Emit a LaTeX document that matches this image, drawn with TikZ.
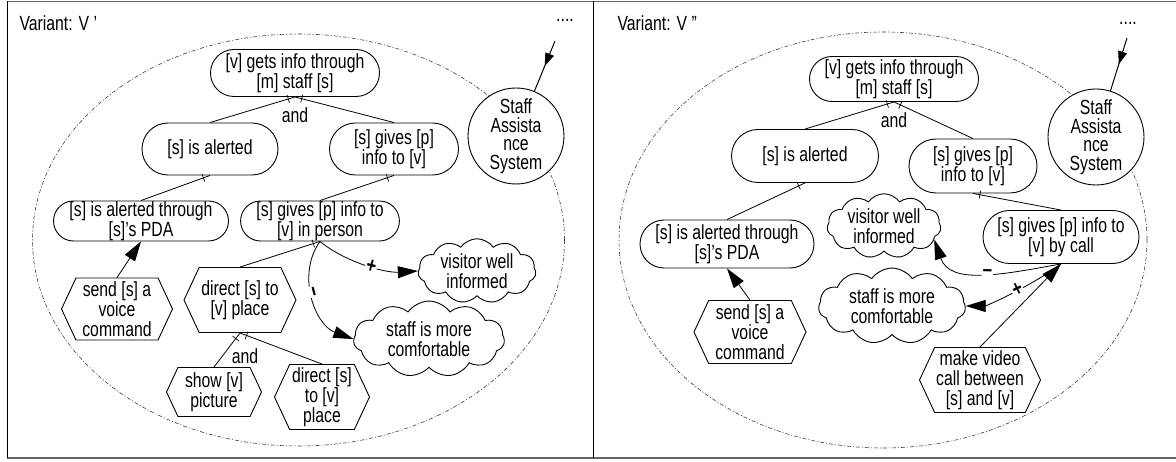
\documentclass[tikz,border=0pt]{standalone}
\usepackage{fontspec}
\setmainfont{Liberation Sans}[FakeStretch=0.77]
\usetikzlibrary{shapes.misc,shapes.symbols,shapes.geometric,arrows.meta,decorations.markings}
\begin{document}
\begin{tikzpicture}[x=1pt,y=-1pt,
  font=\fontsize{20.5}{20}\selectfont,
  goal/.style={rounded rectangle, draw, fill=white, line width=0.9pt, align=center, inner sep=0pt},
  task/.style={signal, signal to=east and west, signal pointer angle=130, draw, fill=white, line width=0.9pt, align=center, inner sep=0pt},
  soft/.style={cloud, cloud puffs=11, cloud puff arc=110, aspect=2, draw, fill=white, line width=0.9pt, align=center, inner sep=0pt},
  actor/.style={circle, draw, fill=white, line width=0.9pt, align=center, inner sep=0pt, minimum size=96pt, font=\fontsize{20.5}{18.5}\selectfont},
  link/.style={line width=0.8pt},
  andtick/.style={link, postaction={decorate, decoration={markings, mark=at position 7pt with {\draw[line width=0.7pt] (0,-4pt) -- (0,4pt);}}}},
  arr/.style={link, -{Triangle[length=20pt,width=12pt]}},
  midarr/.style={line width=1pt, postaction={decorate, decoration={markings, mark=at position 0.5 with {\arrow{Triangle[length=13pt,width=9pt]}}}}},
  contrib/.style={fill=white, inner sep=1pt, font=\fontsize{22}{22}\selectfont\bfseries},
  bound/.style={line width=0.6pt, black!75, dash pattern=on 4pt off 2pt on 1pt off 2pt},
  frame/.style={line width=1.5pt, black!60},
  vline/.style={line width=1pt, black}
]
\fill[white] (0,0) rectangle (1176,462);
\useasboundingbox (0,0) rectangle (1176,462);

% frame
\draw[frame] (7,1.5) -- (1176,1.5);
\draw[frame] (7,458) -- (1176,458);
\draw[vline] (7,1.5) -- (7,458);
\draw[vline] (593,1.5) -- (593,458);

% ================= left panel =================
\node[anchor=base west] (lTitle) at (16,31) {Variant: V ’};
\node (lDots) at (565,20) {....};
\draw[bound] (298.5,240) ellipse [x radius=266pt, y radius=206pt];

\node[goal, minimum width=169pt, minimum height=47pt] (lTop) at (295,73) {[v] gets info through\\{}[m] staff [s]};
\node (lAnd) at (295,115) {and};
\node[goal, minimum width=136pt, minimum height=52pt] (lAl) at (210,149) {[s] is alerted};
\node[goal, minimum width=129pt, minimum height=52pt] (lGv) at (394,149) {[s] gives [p]\\info to [v]};
\node[goal, minimum width=175pt, minimum height=40pt] (lPda) at (141,221) {[s] is alerted through\\{}[s]’s PDA};
\node[goal, minimum width=157pt, minimum height=40pt] (lIp) at (320,221) {[s] gives [p] info to\\{}[v] in person};
\node[task, minimum width=111pt, minimum height=62pt] (lSend) at (117,309) {send [s] a\\voice\\command};
\node[task, minimum width=112pt, minimum height=65pt] (lDir) at (240,300) {direct [s] to\\{}[v] place};
\node (lAnd2) at (245,356) {and};
\node[task, minimum width=95pt, minimum height=49pt] (lShow) at (214,392) {show [v]\\picture};
\node[task, minimum width=95pt, minimum height=65pt] (lDir2) at (322,397) {direct [s]\\to [v]\\place};
\node[soft, minimum width=118pt, minimum height=60pt] (lVis) at (477,271) {visitor well\\informed};
\node[soft, minimum width=151pt, minimum height=60pt] (lStf) at (429,339) {staff is more\\comfortable};
\node[actor] (lSas) at (516,136) {Staff\\Assista\\nce\\System};
\coordinate (lIn) at (555,41);

\draw[andtick] (lTop.south) -- (lAl.north);
\draw[andtick] (lTop.south) -- (lGv.north);
\draw[andtick] (lAl.south) -- (lPda.north);
\draw[andtick] (lGv.south) -- (lIp.north);
\draw[andtick] (lIp.south) -- (lDir.north);
\draw[andtick] (lDir.south) -- (lShow.north);
\draw[andtick] (lDir.south) -- (lDir2.north);
\draw[arr] (lSend.north) -- (lPda.south);
\draw[arr] (lIp.south) .. controls (345,262) and (385,273) .. (lVis.west) node[pos=0.55, sloped, contrib] {+};
\draw[arr] (lIp.south) .. controls (296,275) and (315,325) .. (lStf.west) node[pos=0.45, sloped, contrib] {–};
\draw[midarr] (lIn) -- (lSas);

% ================= right panel =================
\node[anchor=base west] (rTitle) at (614,31) {Variant: V ”};
\node (rDots) at (1128,23) {....};
\draw[bound] (883,240) ellipse [x radius=264pt, y radius=208pt];

\node[goal, minimum width=169pt, minimum height=45pt] (rTop) at (894,79) {[v] gets info through\\{}[m] staff [s]};
\node (rAnd) at (894,120) {and};
\node[goal, minimum width=147pt, minimum height=53pt] (rAl) at (805,156) {[s] is alerted};
\node[goal, minimum width=128pt, minimum height=54pt] (rGv) at (973,166) {[s] gives [p]\\info to [v]};
\node[goal, minimum width=174pt, minimum height=48pt] (rPda) at (727,244) {[s] is alerted through\\{}[s]’s PDA};
\node[task, minimum width=112pt, minimum height=63pt] (rSend) at (750,332) {send [s] a\\voice\\command};
\node[soft, minimum width=114pt, minimum height=56pt] (rVis) at (884,226) {visitor well\\informed};
\node[soft, minimum width=147pt, minimum height=56pt] (rStf) at (892,306) {staff is more\\comfortable};
\node[goal, minimum width=156pt, minimum height=53pt] (rCall) at (1061,237) {[s] gives [p] info to\\{}[v] by call};
\node[task, minimum width=121pt, minimum height=65pt] (rVid) at (980,380) {make video\\call between\\{}[s] and [v]};
\node[actor] (rSas) at (1096,137) {Staff\\Assista\\nce\\System};
\coordinate (rIn) at (1127,38);

\draw[andtick] (rTop.south) -- (rAl.north);
\draw[andtick] (rTop.south) -- (rGv.north);
\draw[andtick] (rAl.south) -- (rPda.north);
\draw[andtick] (rGv.south) -- (rCall.north);
\draw[arr] (rSend.north) -- (rPda.south);
\draw[arr] (rVid.north) -- (rCall.south);
\draw[arr] (rCall.south) .. controls (1000,275) and (950,285) .. (rVis.-15) node[pos=0.45, sloped, contrib] {–};
\draw[arr] (rCall.south) .. controls (1025,290) and (985,306) .. (rStf.east) node[pos=0.4, sloped, contrib] {+};
\draw[midarr] (rIn) -- (rSas);
\end{tikzpicture}
\end{document}
